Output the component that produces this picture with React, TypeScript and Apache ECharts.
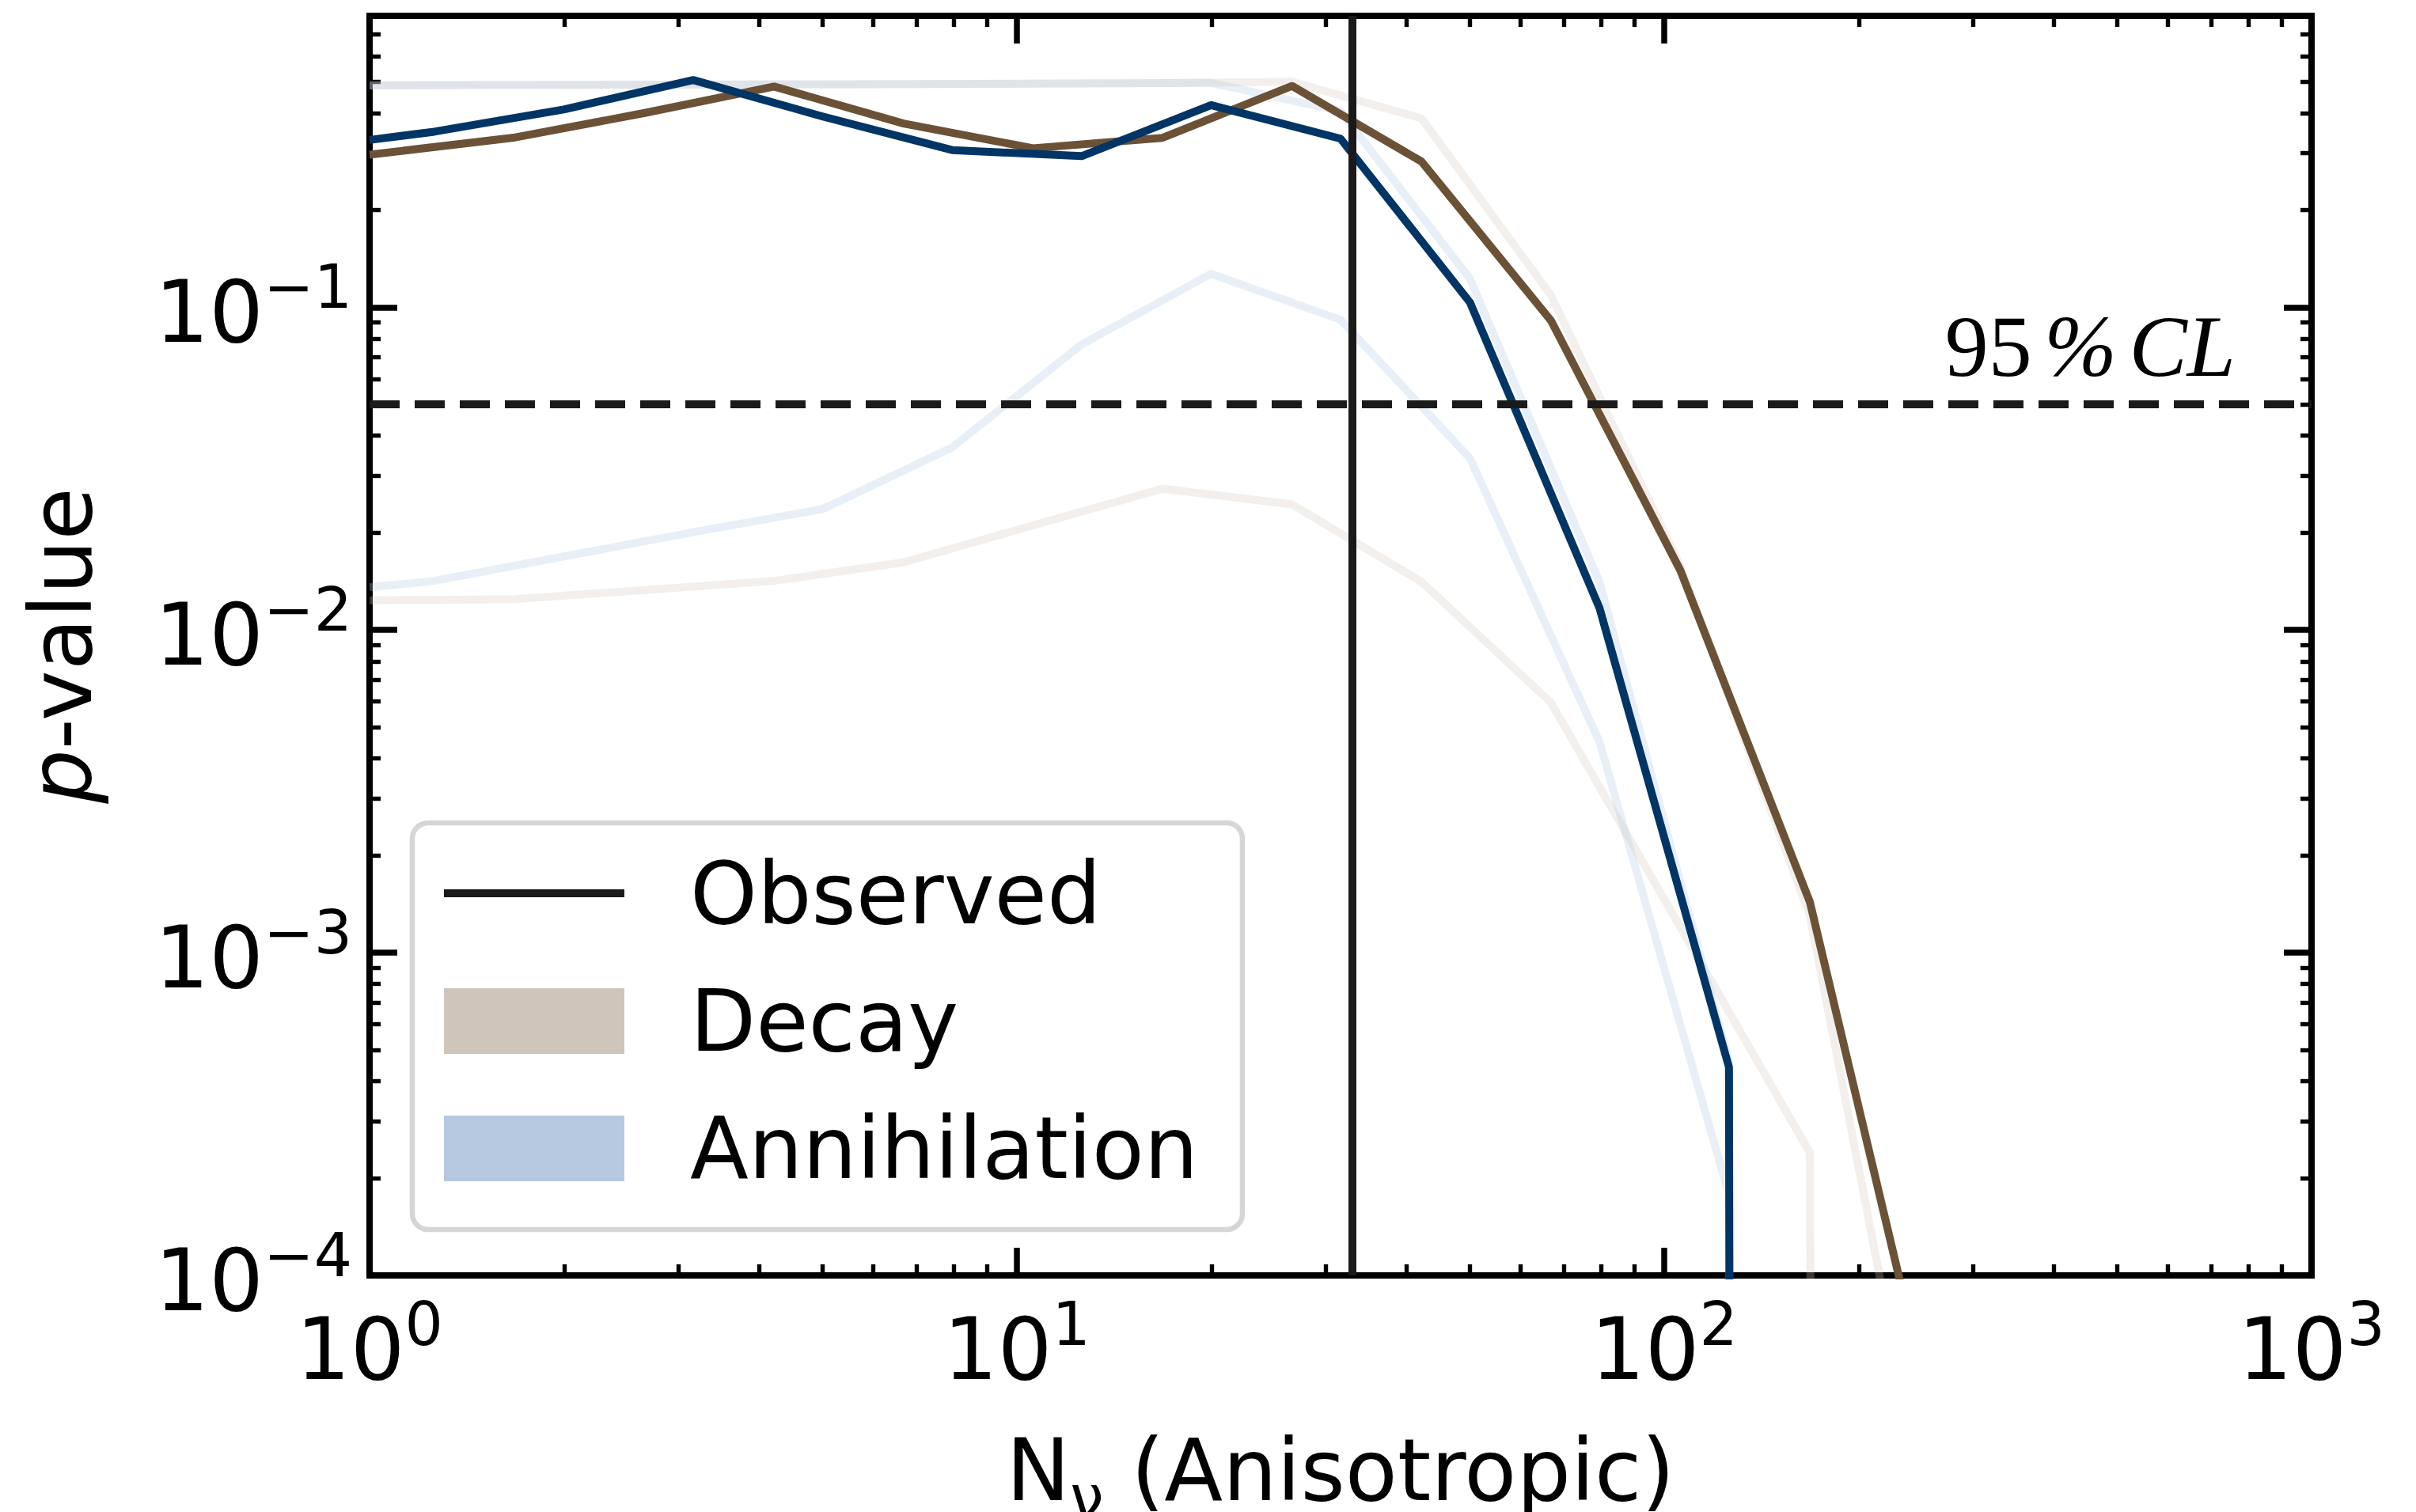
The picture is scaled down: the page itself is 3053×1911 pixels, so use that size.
import React, { useEffect, useRef } from "react";
import * as echarts from "echarts";

// ---- data ----
const ZERO = 1e-100; // a p-value of zero: the curve drops straight out of the frame

const N_ANNIHILATION = [1, 1.259, 1.995, 3.162, 5.012, 7.943, 12.59, 19.95, 31.62, 50.12, 79.43, 125.9, 158.5];
const N_DECAY = [1, 1.679, 2.661, 4.217, 6.683, 10.59, 16.79, 26.61, 42.17, 66.83, 105.9, 167.9, 266.1];

const P_ANNIHILATION = [0.33, 0.35, 0.41, 0.506, 0.39, 0.307, 0.294, 0.423, 0.333, 0.1035, 0.0117, 4.42e-4, ZERO];
const P_ANNIHILATION_FAINT_A = [0.487, 0.488, 0.489, 0.49, 0.491, 0.492, 0.494, 0.496, 0.405, 0.1225, 0.0141, 4.6e-4, ZERO];
const P_ANNIHILATION_FAINT_B = [0.01356, 0.0142, 0.0169, 0.0201, 0.0237, 0.0368, 0.0767, 0.127, 0.0915, 0.034, 0.0045, 1.78e-4, ZERO];

const P_DECAY = [0.297, 0.336, 0.4, 0.483, 0.371, 0.311, 0.335, 0.485, 0.283, 0.091, 0.0153, 1.435e-3, 2.95e-5];
const P_DECAY_FAINT_A = [0.487, 0.488, 0.489, 0.49, 0.491, 0.493, 0.495, 0.5, 0.385, 0.109, 0.0158, 1.3e-3, 1.1e-5];
const P_DECAY_FAINT_B = [0.01235, 0.01247, 0.0133, 0.0142, 0.0162, 0.0211, 0.0274, 0.0245, 0.0141, 0.00596, 0.0012, 2.4e-4, ZERO];

const OBSERVED_N = 33;
const CL_P = 0.05;
const CL_LABEL = "{n|95}{sp| }{i|%}{sp| }{i|CL}";

const X_RANGE = [1, 1000];
const Y_RANGE = [1e-4, 0.8];
const X_MINOR_TICKS = [2, 3, 4, 5, 6, 7, 8, 9, 20, 30, 40, 50, 60, 70, 80, 90, 200, 300, 400, 500, 600, 700, 800, 900];
const Y_MINOR_TICKS = [
  2e-4, 3e-4, 4e-4, 5e-4, 6e-4, 7e-4, 8e-4, 9e-4,
  2e-3, 3e-3, 4e-3, 5e-3, 6e-3, 7e-3, 8e-3, 9e-3,
  2e-2, 3e-2, 4e-2, 5e-2, 6e-2, 7e-2, 8e-2, 9e-2,
  0.2, 0.3, 0.4, 0.5, 0.6, 0.7,
];

const X_TITLE = "{n|N}{sub|\u03bd}{n| (Anisotropic)}";
const Y_TITLE = "{i|p}{n|-value}";
const LEGEND_LABELS = ["Observed", "Decay", "Annihilation"];

// ---- styles ----
const FONT = "DejaVu Sans";
const DARK = "#1a1a1a";
const BROWN = "#6b5236";
const NAVY = "#003566";
const DECAY_PATCH = "#cfc5ba";
const ANNI_PATCH = "#b6c9e0";
const DECAY_FAINT = "rgba(207,199,188,0.28)";
const ANNI_FAINT = "rgba(182,201,224,0.3)";

function powerLabel(v: number): string {
  const l = Math.log10(v);
  const e = Math.round(l);
  if (Math.abs(l - e) > 1e-6) return "";
  const exp = e < 0 ? "\u2212" + -e : String(e);
  return "{b|10}{s|" + exp + "}";
}

const TICK_RICH = {
  b: { fontSize: 108, lineHeight: 120, fontFamily: FONT, color: "#000", verticalAlign: "bottom" },
  s: { fontSize: 76, lineHeight: 84, fontFamily: FONT, color: "#000", verticalAlign: "bottom", padding: [0, 0, 48, 0] },
};

const X_NAME_RICH = {
  n: { fontSize: 108, lineHeight: 120, fontFamily: FONT, color: "#000", verticalAlign: "top" },
  sub: { fontSize: 76, lineHeight: 84, fontFamily: FONT, color: "#000", verticalAlign: "top", padding: [50, 0, 0, 0] },
};

const Y_NAME_RICH = {
  i: { fontSize: 108, lineHeight: 120, fontFamily: FONT, fontStyle: "italic", color: "#000" },
  n: { fontSize: 108, lineHeight: 120, fontFamily: FONT, color: "#000" },
};

const frameLine = { color: "#000", width: 8, cap: "square" };
const majorTick = { show: true, inside: true, length: 35, lineStyle: { color: "#000", width: 7.5 } };
const minorTick = (values: number[]) => ({
  show: true,
  inside: true,
  length: 14,
  customValues: values,
  lineStyle: { color: "#000", width: 5.4 },
});

const gridBox = { left: 467, top: 20, width: 2454, height: 1592, containLabel: false, outerBoundsMode: "none" };

function lineSeries(name: string, xs: number[], ys: number[], color: string, z: number) {
  return {
    type: "line",
    name,
    xAxisIndex: 0,
    yAxisIndex: 0,
    data: xs.map((x, i) => [x, ys[i]]),
    symbol: "none",
    showSymbol: false,
    silent: true,
    clip: true,
    z,
    lineStyle: { color, width: 10, join: "round", cap: "butt" },
    emphasis: { disabled: true },
  };
}

function buildOption() {
  const baseLog = { type: "log", logBase: 10, splitLine: { show: false }, minorTick: { show: false }, minorSplitLine: { show: false } };
  return {
    animation: false,
    backgroundColor: "#ffffff",
    grid: [gridBox, gridBox],
    xAxis: [
      {
        ...baseLog,
        gridIndex: 0,
        position: "bottom",
        min: X_RANGE[0],
        max: X_RANGE[1],
        axisLine: { show: true, onZero: false, lineStyle: frameLine },
        axisTick: majorTick,
        axisLabel: { show: true, margin: 27, formatter: powerLabel, rich: TICK_RICH, fontSize: 108, fontFamily: FONT, color: "#000" },
        name: X_TITLE,
        nameLocation: "middle",
        nameGap: 192,
        nameMoveOverlap: false,
        nameTextStyle: { rich: X_NAME_RICH, fontSize: 108, fontFamily: FONT, color: "#000" },
      },
      {
        ...baseLog,
        gridIndex: 0,
        position: "top",
        min: X_RANGE[0],
        max: X_RANGE[1],
        axisLine: { show: true, onZero: false, lineStyle: frameLine },
        axisTick: majorTick,
        axisLabel: { show: false },
      },
      {
        ...baseLog,
        gridIndex: 1,
        position: "bottom",
        min: X_RANGE[0],
        max: X_RANGE[1],
        axisLine: { show: false },
        axisTick: minorTick(X_MINOR_TICKS),
        axisLabel: { show: false },
      },
      {
        ...baseLog,
        gridIndex: 1,
        position: "top",
        min: X_RANGE[0],
        max: X_RANGE[1],
        axisLine: { show: false },
        axisTick: minorTick(X_MINOR_TICKS),
        axisLabel: { show: false },
      },
    ],
    yAxis: [
      {
        ...baseLog,
        gridIndex: 0,
        position: "left",
        min: Y_RANGE[0],
        max: Y_RANGE[1],
        axisLine: { show: true, onZero: false, lineStyle: frameLine },
        axisTick: majorTick,
        axisLabel: { show: true, margin: 22, formatter: powerLabel, rich: TICK_RICH, fontSize: 108, fontFamily: FONT, color: "#000" },
        name: Y_TITLE,
        nameLocation: "middle",
        nameRotate: 90,
        nameGap: 330,
        nameMoveOverlap: false,
        nameTextStyle: { rich: Y_NAME_RICH, fontSize: 108, fontFamily: FONT, color: "#000" },
      },
      {
        ...baseLog,
        gridIndex: 0,
        position: "right",
        min: Y_RANGE[0],
        max: Y_RANGE[1],
        axisLine: { show: true, onZero: false, lineStyle: frameLine },
        axisTick: majorTick,
        axisLabel: { show: false },
      },
      {
        ...baseLog,
        gridIndex: 1,
        position: "left",
        min: Y_RANGE[0],
        max: Y_RANGE[1],
        axisLine: { show: false },
        axisTick: minorTick(Y_MINOR_TICKS),
        axisLabel: { show: false },
      },
      {
        ...baseLog,
        gridIndex: 1,
        position: "right",
        min: Y_RANGE[0],
        max: Y_RANGE[1],
        axisLine: { show: false },
        axisTick: minorTick(Y_MINOR_TICKS),
        axisLabel: { show: false },
      },
    ],
    series: [
      {
        type: "line",
        name: "95% CL",
        xAxisIndex: 0,
        yAxisIndex: 0,
        data: [],
        z: 1,
        silent: true,
        markLine: {
          silent: true,
          symbol: ["none", "none"],
          label: { show: false },
          lineStyle: { color: DARK, width: 10, type: [38, 19] },
          data: [{ yAxis: CL_P }],
        },
      },
      lineSeries("Decay (faint A)", N_DECAY, P_DECAY_FAINT_A, DECAY_FAINT, 2),
      lineSeries("Decay (faint B)", N_DECAY, P_DECAY_FAINT_B, DECAY_FAINT, 2),
      lineSeries("Annihilation (faint A)", N_ANNIHILATION, P_ANNIHILATION_FAINT_A, ANNI_FAINT, 2),
      lineSeries("Annihilation (faint B)", N_ANNIHILATION, P_ANNIHILATION_FAINT_B, ANNI_FAINT, 2),
      lineSeries("Decay", N_DECAY, P_DECAY, BROWN, 3),
      lineSeries("Annihilation", N_ANNIHILATION, P_ANNIHILATION, NAVY, 4),
      {
        type: "line",
        name: "Observed",
        xAxisIndex: 0,
        yAxisIndex: 0,
        data: [],
        z: 10,
        silent: true,
        markLine: {
          silent: true,
          symbol: ["none", "none"],
          label: { show: false },
          lineStyle: { color: DARK, width: 10, type: "solid" },
          data: [{ xAxis: OBSERVED_N }],
        },
      },
    ],
    graphic: [
      {
        type: "text",
        x: 2825,
        y: 438,
        z: 50,
        silent: true,
        style: {
          text: CL_LABEL,
          align: "right",
          verticalAlign: "middle",
          fill: "#000",
          rich: {
            n: { fontSize: 110, fontFamily: "Liberation Serif", fill: "#000" },
            i: { fontSize: 110, fontFamily: "Liberation Serif", fontStyle: "italic", fill: "#000" },
            sp: { fontSize: 62, fontFamily: "Liberation Serif", fill: "#000" },
          },
        },
      },
      {
        type: "group",
        z: 100,
        silent: true,
        children: [
          {
            type: "rect",
            shape: { x: 521, y: 1040, width: 1049, height: 514, r: 20 },
            style: { fill: "rgba(255,255,255,0.8)", stroke: "#d6d6d6", lineWidth: 6.5 },
            z: 100,
          },
          {
            type: "line",
            shape: { x1: 561, y1: 1129, x2: 789, y2: 1129 },
            style: { stroke: DARK, lineWidth: 10 },
            z: 101,
          },
          {
            type: "rect",
            shape: { x: 561, y: 1249, width: 228, height: 83 },
            style: { fill: DECAY_PATCH },
            z: 101,
          },
          {
            type: "rect",
            shape: { x: 561, y: 1410, width: 228, height: 83 },
            style: { fill: ANNI_PATCH },
            z: 101,
          },
          ...LEGEND_LABELS.map((t, i) => ({
            type: "text",
            x: 872,
            y: [1129, 1290, 1451][i],
            z: 101,
            style: { text: t, fontSize: 108, fontFamily: FONT, fill: "#000", align: "left", verticalAlign: "middle" },
          })),
        ],
      },
    ],
  };
}

export default function App() {
  const ref = useRef<HTMLDivElement | null>(null);
  useEffect(() => {
    if (!ref.current) return;
    const chart = echarts.init(ref.current, undefined, { renderer: "svg" });
    chart.setOption(buildOption() as any);
    return () => chart.dispose();
  }, []);
  return (
    <div
      ref={ref}
      style={{ position: "fixed", left: 0, top: 0, width: 3053, height: 1911, background: "#fff", overflow: "hidden" }}
    />
  );
}
